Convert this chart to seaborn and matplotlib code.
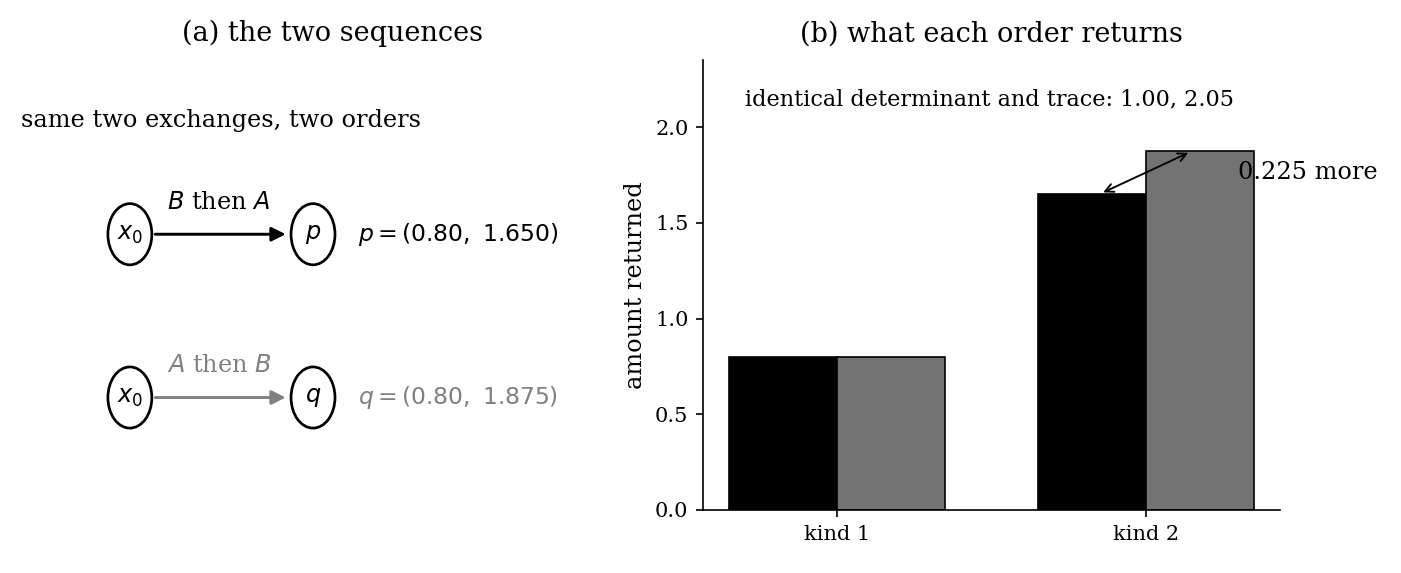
import numpy as np
import pandas as pd
import matplotlib
matplotlib.use("Agg")
import matplotlib.pyplot as plt
import seaborn as sns
from matplotlib.patches import Ellipse

# data
kinds = ['kind 1', 'kind 2']
p_vals = [0.80, 1.650]   # B then A
q_vals = [0.80, 1.875]   # A then B
orders = ['B then A', 'A then B']
det_val = 1.00
trace_val = 2.05

sns.set_style("ticks", rc={'text.color': 'black', 'axes.labelcolor': 'black',
                           'xtick.color': 'black', 'ytick.color': 'black',
                           'axes.edgecolor': 'black'})
plt.rcParams['font.family'] = ['DejaVu Serif']

df = pd.DataFrame({
    'kind': kinds * 2,
    'amount': p_vals + q_vals,
    'order': [orders[0]] * 2 + [orders[1]] * 2,
})

fig = plt.figure(figsize=(1401 / 150, 573 / 150), dpi=150)
ax1 = fig.add_axes([0.0, 0.110, 666 / 1401, 0.785])
ax2 = fig.add_axes([0.5018, 0.110, 0.4118, 0.785])

# ---- (a) the two sequences
ax1.set_xlim(0, 1)
ax1.set_ylim(0, 1)
ax1.axis('off')
ax1.set_title('(a) the two sequences', fontsize=13, pad=9)
ax1.text(0.0315, 0.865, 'same two exchanges, two orders', fontsize=11.5,
         ha='left', va='center')

rows = [
    (0.613, 'black', '$B$ then $A$', '$p$', '$p = (0.80,\\ 1.650)$'),
    (0.250, 'gray', '$A$ then $B$', '$q$', '$q = (0.80,\\ 1.875)$'),
]
for y, col, lab, node, txt in rows:
    for xc, name in [(0.195, '$x_0$'), (0.470, node)]:
        ax1.add_patch(Ellipse((xc, y), 0.066, 0.136, fill=False,
                              ec='black', lw=1.3))
        ax1.text(xc, y, name, fontsize=11.5, ha='center', va='center')
    ax1.annotate('', xy=(0.429, y), xytext=(0.233, y),
                 arrowprops=dict(arrowstyle='-|>', color=col, lw=1.4,
                                 mutation_scale=14, shrinkA=0, shrinkB=0))
    ax1.text(0.329, y + 0.071, lab, fontsize=11.5, color=col,
             ha='center', va='center')
    ax1.text(0.5375, y, txt, fontsize=11.25, color=col, ha='left', va='center')

# ---- (b) what each order returns
sns.barplot(data=df, x='kind', y='amount', hue='order',
            palette=['black', '#737373'], width=0.7, edgecolor='black',
            linewidth=0.8, legend=False, ax=ax2)
ax2.set_xlim(-0.435, 1.435)
ax2.set_ylim(0, 2.35)
ax2.set_yticks([0.0, 0.5, 1.0, 1.5, 2.0])
ax2.set_xlabel('')
ax2.set_ylabel('amount returned', fontsize=11.5)
ax2.tick_params(labelsize=10)
ax2.set_title('(b) what each order returns', fontsize=13, pad=9)
sns.despine(ax=ax2)

ax2.text(-0.3, 2.2, f'identical determinant and trace: {det_val:.2f}, {trace_val:.2f}',
         fontsize=10.75, ha='left', va='top')
ax2.annotate('', xy=(1.15, q_vals[1]), xytext=(0.85, p_vals[1]),
             arrowprops=dict(arrowstyle='<->', color='black', lw=0.9))
ax2.text(1.30, 1.765, f'{q_vals[1] - p_vals[1]:.3f} more', fontsize=11.5,
         ha='left', va='center')

fig.savefig('out.png', dpi=150)
